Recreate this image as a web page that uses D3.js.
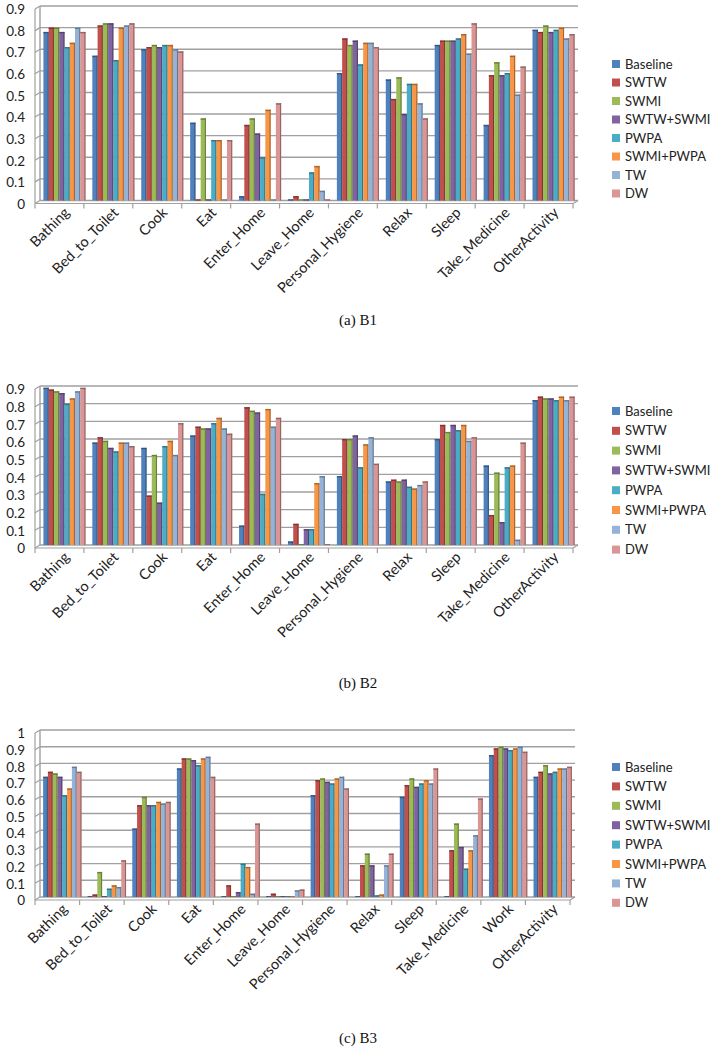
<!DOCTYPE html>
<html><head><meta charset="utf-8">
<script src="https://cdn.jsdelivr.net/npm/d3@7"></script>
<style>body{margin:0;background:#fff}svg{display:block}</style>
</head><body>
<svg id="chart" width="717" height="1050"></svg>
<script>
const seriesNames = ["Baseline","SWTW","SWMI","SWTW+SWMI","PWPA","SWMI+PWPA","TW","DW"];
const seriesColors = ["#4F81BD","#C0504D","#9BBB59","#8064A2","#4BACC6","#F79646","#95B3D7","#D99694"];

const categoriesB1 = ["Bathing","Bed_to_Toilet","Cook","Eat","Enter_Home","Leave_Home","Personal_Hygiene","Relax","Sleep","Take_Medicine","OtherActivity"];
const valuesB1 = [
  [0.78,0.80,0.80,0.78,0.71,0.73,0.80,0.78],
  [0.67,0.81,0.82,0.82,0.65,0.80,0.81,0.82],
  [0.70,0.71,0.72,0.71,0.72,0.72,0.70,0.69],
  [0.36,0.005,0.38,0.005,0.28,0.28,0.005,0.28],
  [0.02,0.35,0.38,0.31,0.20,0.42,0.005,0.45],
  [0.005,0.02,0.005,0.005,0.13,0.16,0.045,0.005],
  [0.59,0.75,0.72,0.74,0.63,0.73,0.73,0.71],
  [0.56,0.47,0.57,0.40,0.54,0.54,0.45,0.38],
  [0.72,0.74,0.74,0.74,0.75,0.77,0.68,0.82],
  [0.35,0.58,0.64,0.58,0.59,0.67,0.49,0.62],
  [0.79,0.78,0.81,0.78,0.79,0.80,0.75,0.77]
];
const ticksB1 = ["0","0.1","0.2","0.3","0.4","0.5","0.6","0.7","0.8","0.9"];

const categoriesB2 = ["Bathing","Bed_to_Toilet","Cook","Eat","Enter_Home","Leave_Home","Personal_Hygiene","Relax","Sleep","Take_Medicine","OtherActivity"];
const valuesB2 = [
  [0.89,0.88,0.87,0.86,0.80,0.83,0.87,0.89],
  [0.58,0.61,0.59,0.55,0.53,0.58,0.58,0.56],
  [0.55,0.28,0.51,0.24,0.56,0.59,0.51,0.69],
  [0.62,0.67,0.66,0.66,0.69,0.72,0.66,0.63],
  [0.11,0.78,0.76,0.75,0.29,0.77,0.67,0.72],
  [0.02,0.12,0.005,0.09,0.09,0.35,0.39,0.005],
  [0.39,0.60,0.60,0.62,0.44,0.57,0.61,0.46],
  [0.36,0.37,0.36,0.37,0.33,0.32,0.34,0.36],
  [0.60,0.68,0.64,0.68,0.65,0.68,0.59,0.61],
  [0.45,0.17,0.41,0.13,0.44,0.45,0.03,0.58],
  [0.82,0.84,0.83,0.83,0.82,0.84,0.82,0.84]
];
const ticksB2 = ["0","0.1","0.2","0.3","0.4","0.5","0.6","0.7","0.8","0.9"];

const categoriesB3 = ["Bathing","Bed_to_Toilet","Cook","Eat","Enter_Home","Leave_Home","Personal_Hygiene","Relax","Sleep","Take_Medicine","Work","OtherActivity"];
const valuesB3 = [
  [0.72,0.75,0.74,0.72,0.61,0.65,0.78,0.75],
  [0.005,0.015,0.15,0.005,0.05,0.07,0.06,0.22],
  [0.41,0.55,0.60,0.55,0.55,0.57,0.56,0.57],
  [0.77,0.83,0.83,0.82,0.79,0.83,0.84,0.72],
  [0.005,0.07,0.005,0.03,0.20,0.18,0.02,0.44],
  [0.005,0.02,0.005,0.005,0.005,0.005,0.04,0.045],
  [0.61,0.70,0.71,0.69,0.68,0.71,0.72,0.65],
  [0.005,0.19,0.26,0.19,0.01,0.015,0.19,0.26],
  [0.60,0.67,0.71,0.66,0.68,0.70,0.68,0.77],
  [0.005,0.28,0.44,0.30,0.17,0.28,0.37,0.59],
  [0.85,0.89,0.90,0.89,0.88,0.89,0.90,0.87],
  [0.72,0.75,0.79,0.74,0.75,0.77,0.77,0.78]
];
const ticksB3 = ["0","0.1","0.2","0.3","0.4","0.5","0.6","0.7","0.8","0.9","1"];

const svg = d3.select("#chart");
const gridColor = "#a0a0a0";
const labelFont = "Lato, 'Open Sans', sans-serif";

function drawChart(cfg){
  const g = svg.append("g");
  const yMax = +cfg.ticks[cfg.ticks.length-1];
  const y = d3.scaleLinear().domain([0, yMax]).range([cfg.y0, cfg.yTop]);
  const x = d3.scaleBand().domain(cfg.categories).range([cfg.x0, cfg.x1]).paddingInner(0.14).paddingOuter(0.07);
  const xs = d3.scaleBand().domain(seriesNames).range([0, x.bandwidth()]).padding(0);

  g.selectAll("line.grid").data(cfg.ticks).join("line")
    .attr("x1", cfg.x0).attr("x2", cfg.x1)
    .attr("y1", d => y(+d)).attr("y2", d => y(+d))
    .attr("stroke", gridColor).attr("stroke-width", 1.4);
  g.selectAll("line.yt").data(cfg.ticks).join("line")
    .attr("x1", cfg.x0 - 5).attr("x2", cfg.x0)
    .attr("y1", d => y(+d) + 3).attr("y2", d => y(+d))
    .attr("stroke", gridColor).attr("stroke-width", 1.2);
  g.append("line").attr("x1", cfg.x0).attr("x2", cfg.x0)
    .attr("y1", y(yMax)).attr("y2", y(0))
    .attr("stroke", gridColor).attr("stroke-width", 1.4);
  g.append("line").attr("x1", cfg.x0 - 5).attr("x2", cfg.x0 - 5)
    .attr("y1", y(yMax) + 3).attr("y2", y(0) + 3)
    .attr("stroke", gridColor).attr("stroke-width", 1.2);
  g.append("line").attr("x1", cfg.x0 - 5).attr("x2", cfg.x1 - 5)
    .attr("y1", y(0) + 3).attr("y2", y(0) + 3)
    .attr("stroke", gridColor).attr("stroke-width", 1.2);
  g.append("line").attr("x1", cfg.x1 - 5).attr("x2", cfg.x1)
    .attr("y1", y(0) + 3).attr("y2", y(0))
    .attr("stroke", gridColor).attr("stroke-width", 1.2);
  const bounds = cfg.categories.map(c => x(c) - x.step()*x.paddingInner()/2).concat([cfg.x1]);
  g.selectAll("line.xt").data(bounds).join("line")
    .attr("x1", d => d - 5).attr("x2", d => d - 5)
    .attr("y1", y(0) + 3).attr("y2", y(0) + 8)
    .attr("stroke", gridColor).attr("stroke-width", 1.2);

  g.selectAll("text.yl").data(cfg.ticks).join("text")
    .attr("x", 25).attr("y", d => y(+d) + 3.5)
    .attr("dy", "0.35em").attr("text-anchor", "end")
    .attr("font-family", labelFont).attr("font-size", 13.5).attr("fill", "#222")
    .text(d => d);

  cfg.categories.forEach((cat, ci) => {
    const row = cfg.values[ci];
    const bg = g.append("g").attr("transform", `translate(${x(cat)},0)`);
    seriesNames.forEach((s, si) => {
      const v = row[si];
      const bx = xs(s), bw = xs.bandwidth();
      const top = y(v), h = y(0) - top;
      const col = seriesColors[si];
      const dark = d3.color(col).darker(1.1).formatHex();
      bg.append("rect").attr("x", bx).attr("y", top).attr("width", bw).attr("height", h).attr("fill", col);
      bg.append("rect").attr("x", bx + bw - 1.1).attr("y", top).attr("width", 1.1).attr("height", h).attr("fill", dark);
      bg.append("rect").attr("x", bx).attr("y", top).attr("width", bw).attr("height", Math.min(1.4, h)).attr("fill", dark);
    });
  });

  g.selectAll("text.xl").data(cfg.categories).join("text")
    .attr("transform", d => `translate(${x(d) + x.bandwidth()/2 + 6},${y(0) + 13}) rotate(-45)`)
    .attr("text-anchor", "end")
    .attr("font-family", labelFont).attr("font-size", 14.5).attr("fill", "#222")
    .text(d => d);

  const lg = g.append("g");
  seriesNames.forEach((s, si) => {
    const ly = cfg.legendY + si * cfg.legendStep;
    lg.append("rect").attr("x", 612).attr("y", ly - 4).attr("width", 8).attr("height", 8).attr("fill", seriesColors[si]);
    lg.append("text").attr("x", 625).attr("y", ly).attr("dy", "0.35em")
      .attr("font-family", labelFont).attr("font-size", 13).attr("fill", "#222").text(s);
  });

  g.append("text").attr("x", 358).attr("y", cfg.captionY).attr("text-anchor", "middle")
    .attr("font-family", "'Liberation Serif', 'DejaVu Serif', serif").attr("font-size", 15).attr("fill", "#111")
    .text(cfg.caption);
}

drawChart({categories: categoriesB1, values: valuesB1, ticks: ticksB1, x0: 40, x1: 578, y0: 200.5, yTop: 6,
  legendY: 64, legendStep: 18.5, caption: "(a)  B1", captionY: 325});
drawChart({categories: categoriesB2, values: valuesB2, ticks: ticksB2, x0: 40, x1: 578, y0: 545, yTop: 386,
  legendY: 411, legendStep: 19.8, caption: "(b)  B2", captionY: 688});
drawChart({categories: categoriesB3, values: valuesB3, ticks: ticksB3, x0: 40, x1: 575, y0: 897, yTop: 730,
  legendY: 767, legendStep: 19.4, caption: "(c)  B3", captionY: 1043});
</script>
</body></html>
